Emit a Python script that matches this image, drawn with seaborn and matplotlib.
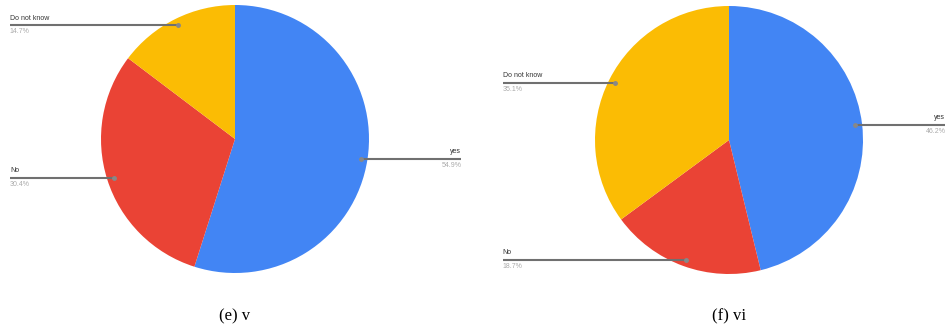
import numpy as np
import matplotlib.pyplot as plt
import seaborn as sns

# data
labels = ["yes", "No", "Do not know"]
pct_v = [54.9, 30.4, 14.7]
pct_vi = [46.2, 18.7, 35.1]
colors = ["#4285F4", "#EA4335", "#FBBC04"]
captions = ["(e) v", "(f) vi"]

sns.set_theme(style="white")
plt.rcParams["font.family"] = ["Liberation Sans", "DejaVu Sans"]

W, H = 947, 331
R = 134
fig = plt.figure(figsize=(W / 100, H / 100), dpi=100)


def draw_pie(cx, cy, vals, left_end, right_end, caption):
    ax = fig.add_axes([(cx - R) / W, (H - cy - R) / H, 2 * R / W, 2 * R / H])
    wedges, _ = ax.pie(vals, colors=colors, startangle=90, counterclock=False,
                       radius=1, wedgeprops=dict(linewidth=0))
    ax.set_xlim(-1, 1)
    ax.set_ylim(-1, 1)
    ax.axis("off")
    for w, lab, p in zip(wedges, labels, vals):
        mid = np.deg2rad((w.theta1 + w.theta2) / 2)
        x, y = 0.95 * np.cos(mid), 0.95 * np.sin(mid)
        if x < 0:
            end, ha = left_end, "left"
        else:
            end, ha = right_end, "right"
        ax.plot([x, end], [y, y], color="#707070", lw=1.5, clip_on=False,
                solid_capstyle="butt")
        ax.plot([x], [y], "o", color="#888888", ms=2.5, clip_on=False)
        ax.text(end, y + 0.025, lab, ha=ha, va="bottom", fontsize=5,
                color="#333333", clip_on=False)
        ax.text(end, y - 0.025, f"{p}%", ha=ha, va="top", fontsize=5,
                color="#aaaaaa", clip_on=False)
    fig.text(cx / W, 1 - 316 / H, caption, ha="center", va="center",
             family="Liberation Serif", fontsize=12, color="black")


draw_pie(235, 139, pct_v, -1.68, 1.69, captions[0])
draw_pie(729, 140, pct_vi, -1.69, 1.615, captions[1])

fig.savefig("out.png", dpi=100)
